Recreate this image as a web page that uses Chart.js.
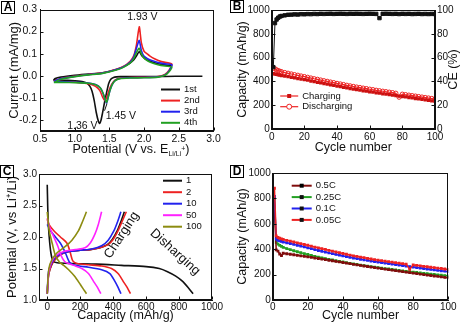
<!DOCTYPE html>
<html lang="en">
<head>
<meta charset="UTF-8">
<title>CV, cycling and rate curves</title>
<script src="https://cdn.jsdelivr.net/npm/chart.js"></script>
<style>
  body { margin: 0; background: #fff; }
  #wrap { position: relative; width: 461px; height: 331px; overflow: hidden; }
  canvas { position: absolute; }
  .tag {
    position: absolute; width: 12px; height: 11px; border: 1.5px solid #000;
    font: bold 12px "Liberation Sans", Arial, sans-serif; line-height: 11px;
    text-align: center; background: #fff; z-index: 2;
  }
</style>
</head>
<body>
<div id="wrap">
  <canvas id="cA" width="230" height="165" style="left:0;top:0"></canvas>
  <canvas id="cB" width="231" height="165" style="left:230px;top:0"></canvas>
  <canvas id="cC" width="230" height="166" style="left:0;top:165px"></canvas>
  <canvas id="cD" width="231" height="166" style="left:230px;top:165px"></canvas>
  <div class="tag" style="left:1px;top:1px">A</div>
  <div class="tag" style="left:230px;top:0">B</div>
  <div class="tag" style="left:0;top:165px">C</div>
  <div class="tag" style="left:230px;top:165px">D</div>
</div>

<script>
// ---- A: cyclic voltammetry (V, mA/mg)
const cv1V = [2.84,2.6,2.3,2.0,1.8,1.66,1.6,1.56,1.52,1.49,1.46,1.43,1.40,1.38,1.36,1.34,1.31,1.28,1.25,1.22,1.18,1.12,1.0,0.9,0.8,0.7,
              0.72,0.8,1.0,1.2,1.4,1.6,1.75,1.85,1.9,1.93,1.97,2.05,2.2,2.4];
const cv1I = [-0.002,-0.002,-0.003,-0.004,-0.004,-0.004,-0.005,-0.008,-0.016,-0.035,-0.075,-0.12,-0.17,-0.2,-0.216,-0.205,-0.165,-0.11,-0.07,-0.048,-0.034,-0.027,-0.023,-0.021,-0.02,-0.019,
              -0.012,-0.006,0.002,0.008,0.014,0.028,0.048,0.072,0.095,0.11,0.09,0.07,0.054,0.044];
const cv2V = [0.70,0.80,1.00,1.20,1.40,1.60,1.70,1.80,1.85,1.89,1.93,1.96,2.00,2.04,2.08,2.15,2.25,2.40,
              2.36,2.30,2.20,2.00,1.80,1.65,1.58,1.53,1.49,1.46,1.43,1.40,1.36,1.30,1.20,1.00,0.85,0.70];
const cv2I = [-0.024,-0.012,-0.002,0.006,0.013,0.03,0.042,0.066,0.09,0.14,0.222,0.15,0.11,0.1,0.09,0.077,0.064,0.053,
              0.025,0.006,-0.004,-0.007,-0.008,-0.011,-0.02,-0.04,-0.07,-0.1,-0.112,-0.095,-0.066,-0.048,-0.036,-0.029,-0.027,-0.024];
const cv3V = [0.70,0.80,1.00,1.20,1.40,1.60,1.70,1.80,1.85,1.89,1.93,1.96,2.00,2.05,2.10,2.20,2.30,2.40,
              2.36,2.30,2.20,2.00,1.80,1.65,1.58,1.54,1.51,1.48,1.46,1.44,1.41,1.37,1.30,1.20,1.00,0.85,0.70];
const cv3I = [-0.026,-0.013,-0.003,0.005,0.012,0.028,0.04,0.062,0.085,0.125,0.16,0.115,0.088,0.077,0.07,0.06,0.054,0.05,
              0.022,0.004,-0.005,-0.008,-0.009,-0.012,-0.022,-0.04,-0.065,-0.1,-0.123,-0.11,-0.08,-0.055,-0.04,-0.033,-0.029,-0.027,-0.026];
const cv4V = cv3V;
const cv4I = [-0.03,-0.016,-0.004,0.004,0.011,0.026,0.038,0.058,0.078,0.105,0.125,0.1,0.08,0.068,0.06,0.05,0.044,0.04,
              0.018,0.002,-0.006,-0.009,-0.01,-0.013,-0.023,-0.04,-0.065,-0.1,-0.12,-0.108,-0.08,-0.055,-0.041,-0.034,-0.031,-0.03,-0.03];
const cvLabels = ['1st', '2nd', '3rd', '4th'];
const potTicks = [0.5, 1.0, 1.5, 2.0, 2.5, 3.0];
const curTicks = [-0.2, -0.1, 0.0, 0.1, 0.2, 0.3];

// ---- B / D: cycling (shared cycle numbers)
const cycles = [1,2,3,4,5,6,8,10,12,14,16,18,20,22,24,26,28,30,32,34,36,38,40,42,44,46,48,50,52,54,56,58,60,62,64,66,68,70,72,74,76,78,80,82,84,86,88,90,92,94,96,98,100];
const chargeB = [465,462,458,455,452,449,444,440,434,430,424,420,414,410,403,399,392,388,381,377,370,366,360,356,350,346,340,336,330,327,321,318,312,309,304,301,296,293,288,285,280,277,272,269,264,261,256,253,248,245,240,236,232];
const dischargeB = [null,505,496,490,485,481,474,468,462,456,451,445,440,434,428,422,417,411,405,400,394,389,383,378,373,367,362,357,352,348,343,339,334,330,325,321,317,313,309,305,300,268,292,288,284,280,276,272,268,264,260,256,252];
const ceB = [52,89,92,93.5,94.5,95,95.5,96,96.1,96.3,96.2,96.5,96.4,96.6,96.5,96.7,96.6,96.8,96.7,96.8,96.9,96.7,96.8,96.9,96.8,96.7,96.9,96.8,96.9,96.8,96.7,96.8,96.9,96.8,96.7,93.2,96.8,96.9,96.8,96.7,96.8,96.6,96.8,96.7,96.8,96.6,96.7,96.8,96.6,96.7,96.6,96.7,96.6];
const cycTicks = [0, 20, 40, 60, 80, 100];
const capTicks = [0, 200, 400, 600, 800, 1000];
const ceTicks = [0, 20, 40, 60, 80, 100];

const rate05 = [700,395,385,362,350,368,364,360,356,352,348,344,340,336,331,327,322,318,313,309,304,300,295,290,286,281,277,272,268,264,259,255,251,247,243,239,235,231,227,223,219,215,211,208,204,200,196,193,189,186,182,178,175];
const rate025 = [800,455,440,430,422,415,405,396,388,380,372,365,358,351,344,338,332,326,320,315,309,304,299,294,289,284,280,275,271,267,263,259,255,251,247,244,240,237,233,230,226,223,220,217,213,210,207,204,201,198,195,192,189];
const rate01 = [815,480,470,465,461,457,451,445,438,431,425,418,411,404,397,390,384,377,371,365,359,353,347,342,336,331,326,321,316,312,307,303,299,295,291,287,283,279,275,271,267,263,259,255,252,248,244,241,237,234,230,227,223];
const rate005 = [880,505,492,486,481,477,470,464,457,450,444,437,431,424,417,411,404,398,391,385,378,372,366,360,354,348,343,338,333,328,323,318,314,310,306,302,298,294,290,286,282,242,276,273,269,265,262,258,255,251,248,244,240];
const rateLabels = ['0.5C', '0.25C', '0.1C', '0.05C'];

// ---- C: charge / discharge profiles (mAh/g, V)
const c1DisCap = [0,5,12,22,35,60,150,300,450,600,680,730,780,820,855,885];
const c1DisV   = [2.83,2.3,2.0,1.75,1.62,1.59,1.58,1.57,1.55,1.53,1.5,1.45,1.38,1.3,1.2,1.1];
const c1ChgCap = [0,8,25,50,80,130,200,260,320,365,395,425,448,468];
const c1ChgV   = [1.1,1.4,1.55,1.65,1.72,1.77,1.79,1.8,1.83,1.88,1.96,2.1,2.25,2.4];
const c2DisCap = [0,10,40,80,120,140,155,180,250,330,390,430,460,485,505];
const c2DisV   = [2.28,2.2,2.1,2.0,1.9,1.75,1.62,1.58,1.56,1.54,1.5,1.42,1.3,1.2,1.1];
const c2ChgCap = [0,8,25,50,80,130,200,260,320,370,400,430,455,480];
const c2ChgV   = [1.1,1.4,1.55,1.65,1.72,1.77,1.79,1.8,1.83,1.88,1.96,2.1,2.25,2.4];
const c10DisCap = [0,20,50,80,110,135,170,250,330,380,410,430,447];
const c10DisV   = [2.2,2.1,2.0,1.9,1.75,1.6,1.55,1.52,1.48,1.42,1.3,1.2,1.1];
const c10ChgCap = [0,8,30,60,110,200,270,330,370,405,428,447];
const c10ChgV   = [1.1,1.45,1.6,1.7,1.76,1.79,1.81,1.86,1.95,2.1,2.25,2.4];
const c50DisCap = [0,15,40,65,85,110,160,210,250,280,305,325];
const c50DisV   = [2.3,2.15,2.0,1.85,1.7,1.6,1.55,1.5,1.42,1.3,1.2,1.1];
const c50ChgCap = [0,10,25,50,100,170,230,260,290,310,330];
const c50ChgV   = [1.1,1.45,1.6,1.7,1.77,1.8,1.83,1.9,2.05,2.2,2.4];
const c100DisCap = [0,12,30,50,75,100,130,165,200,225,238];
const c100DisV   = [2.4,2.1,1.9,1.7,1.6,1.55,1.48,1.38,1.25,1.15,1.1];
const c100ChgCap = [0,10,30,60,110,150,190,215,238];
const c100ChgV   = [1.1,1.5,1.65,1.75,1.85,1.95,2.1,2.25,2.4];
const profLabels = ['1', '2', '10', '50', '100'];
const profCapTicks = [0, 200, 400, 600, 800, 1000];
const profVTicks = [1.0, 1.5, 2.0, 2.5, 3.0];

// ---------------------------------------------------------------
const FONT = '"Liberation Sans", Arial, sans-serif';
Chart.defaults.font.family = FONT;
Chart.defaults.color = '#111';
Chart.defaults.animation = false;
Chart.defaults.responsive = false;
Chart.defaults.devicePixelRatio = 1;
Chart.defaults.plugins.legend.display = false;
Chart.defaults.plugins.tooltip.enabled = false;

const BLACK = '#111', RED = '#ee2222', BLUE = '#2222ee', GREEN = '#22a022',
      MAG = '#ff22ff', OLIVE = '#8c8c10', MAROON = '#800c0c';

function pts(xs, ys) { return xs.map((x, i) => ({ x: x, y: ys[i] })); }

function curve(xs, ys, color, extra) {
  return Object.assign({
    data: pts(xs, ys), showLine: true, borderColor: color, backgroundColor: color,
    borderWidth: 1.6, pointRadius: 0, tension: 0
  }, extra || {});
}

// axis with a fixed box size so each plot frame lands where the figure has it;
// tick marks are drawn inward by the frame plugin
function axis(o) {
  return {
    type: 'linear', position: o.pos, min: o.min, max: o.max,
    afterFit: s => { if (o.w !== undefined) s.width = o.w; if (o.h !== undefined) s.height = o.h; },
    afterBuildTicks: s => { s.ticks = o.ticks.map(v => ({ value: v })); },
    grid: { drawOnChartArea: false, drawTicks: false },
    border: { color: BLACK },
    ticks: { font: { size: o.fs || 10 }, color: BLACK, padding: o.lpad === undefined ? 2 : o.lpad,
             maxRotation: 0, autoSkip: false,
             callback: v => o.dec ? v.toFixed(o.dec) : String(v) },
    title: o.title ? { display: true, text: o.title, font: { size: o.tfs || 12.5 }, color: BLACK,
                       padding: { top: o.tpad || 0, bottom: o.tpad || 0 } } : { display: false }
  };
}

const frame = {
  id: 'frame',
  afterDraw(chart) {
    const a = chart.chartArea, ctx = chart.ctx;
    const l = Math.round(a.left) + 0.5, t = Math.round(a.top) + 0.5;
    const r = Math.round(a.right) - 0.5, b = Math.round(a.bottom) - 0.5;
    ctx.save();
    ctx.strokeStyle = BLACK; ctx.lineWidth = 1;
    ctx.strokeRect(l, t, r - l, b - t);
    ctx.beginPath();
    Object.values(chart.scales).forEach(s => {
      s.ticks.forEach(tk => {
        const p = Math.round(s.getPixelForValue(tk.value)) + 0.5;
        if (s.isHorizontal()) { ctx.moveTo(p, b); ctx.lineTo(p, b - 3); }
        else if (s.position === 'left') { ctx.moveTo(l, p); ctx.lineTo(l + 3, p); }
        else { ctx.moveTo(r, p); ctx.lineTo(r - 3, p); }
      });
    });
    ctx.stroke();
    ctx.restore();
  }
};

// free text and small strokes, placed in data coordinates
const notes = {
  id: 'notes',
  afterDatasetsDraw(chart, args, o) {
    const ctx = chart.ctx, xs = chart.scales.x, ys = chart.scales.y;
    (o.lines || []).forEach(l => {
      ctx.save(); ctx.strokeStyle = BLACK; ctx.lineWidth = 1;
      ctx.beginPath();
      ctx.moveTo(xs.getPixelForValue(l[0]), ys.getPixelForValue(l[1]));
      ctx.lineTo(xs.getPixelForValue(l[2]), ys.getPixelForValue(l[3]));
      ctx.stroke(); ctx.restore();
    });
    (o.items || []).forEach(n => {
      ctx.save();
      ctx.font = (n.size || 10) + 'px ' + FONT;
      ctx.fillStyle = BLACK; ctx.textAlign = 'center'; ctx.textBaseline = 'middle';
      ctx.translate(xs.getPixelForValue(n.x), ys.getPixelForValue(n.y));
      if (n.rot) ctx.rotate(n.rot * Math.PI / 180);
      ctx.fillText(n.text, 0, 0);
      ctx.restore();
    });
  }
};

// in-plot legends, offsets from the chart area's top-left corner
const keys = {
  id: 'keys',
  afterDraw(chart, args, o) {
    if (!o.items) return;
    const a = chart.chartArea, ctx = chart.ctx;
    ctx.save();
    ctx.font = (o.size || 9.5) + 'px ' + FONT;
    ctx.textBaseline = 'middle';
    o.items.forEach((k, i) => {
      const y = a.top + o.y + i * o.gap, x0 = a.left + o.x, x1 = x0 + o.len, xm = (x0 + x1) / 2;
      ctx.strokeStyle = k.color; ctx.lineWidth = k.lw || 2;
      ctx.beginPath(); ctx.moveTo(x0, y); ctx.lineTo(x1, y); ctx.stroke();
      if (k.marker === 'rect') {
        ctx.fillStyle = k.fill || k.color; ctx.fillRect(xm - 2, y - 2, 4, 4);
      } else if (k.marker === 'ring') {
        ctx.fillStyle = '#fff'; ctx.lineWidth = 1;
        ctx.beginPath(); ctx.arc(xm, y, 2.5, 0, Math.PI * 2); ctx.fill(); ctx.stroke();
      }
      ctx.fillStyle = BLACK;
      ctx.fillText(k.label, x1 + 4, y);
    });
    ctx.restore();
  }
};

Chart.register(frame, notes, keys);

// ---- A
const subTitleA = {
  id: 'subTitleA',
  afterDraw(chart) {
    const ctx = chart.ctx;
    const f1 = '12.5px ' + FONT, f2 = '7px ' + FONT;
    const main = 'Potential (V vs. E', sub = 'Li/Li', sup = '+', end = ')';
    ctx.save(); ctx.fillStyle = BLACK; ctx.textBaseline = 'alphabetic'; ctx.textAlign = 'left';
    ctx.font = f1; const w1 = ctx.measureText(main).width, w4 = ctx.measureText(end).width;
    ctx.font = f2; const w2 = ctx.measureText(sub).width, w3 = ctx.measureText(sup).width;
    let x = 131 - (w1 + w2 + w3 + w4) / 2; const y = 153;
    ctx.font = f1; ctx.fillText(main, x, y); x += w1;
    ctx.font = f2; ctx.fillText(sub, x, y + 2.5); x += w2;
    ctx.fillText(sup, x, y - 2.5); x += w3;
    ctx.font = f1; ctx.fillText(end, x, y);
    ctx.restore();
  }
};

new Chart(document.getElementById('cA'), {
  type: 'scatter',
  data: { datasets: [
    curve(cv4V, cv4I, GREEN, { tension: 0.2 }),
    curve(cv3V, cv3I, BLUE, { tension: 0.2 }),
    curve(cv2V, cv2I, RED, { tension: 0.2 }),
    curve(cv1V, cv1I, BLACK, { tension: 0.2 })
  ]},
  options: {
    layout: { padding: { top: 9.5, right: 16.5 } },
    scales: {
      x: axis({ pos: 'bottom', min: 0.5, max: 3.0, ticks: potTicks, h: 34, dec: 1, fs: 10.5, lpad: 2 }),
      y: axis({ pos: 'left', min: -0.25, max: 0.3, ticks: curTicks, w: 40, dec: 1, fs: 10.5, lpad: 3,
                title: 'Current (mA/mg)', tpad: 7, tfs: 13 })
    },
    plugins: {
      notes: {
        items: [
          { text: '1.93 V', x: 1.975, y: 0.265, size: 10.5 },
          { text: '1.45 V', x: 1.665, y: -0.182, size: 10.5 },
          { text: '1.36 V', x: 1.11, y: -0.227, size: 10.5 }
        ],
        lines: [[1.465, -0.126, 1.43, -0.158]]
      },
      keys: {
        x: 121, y: 80, gap: 11.1, len: 19,
        items: cvLabels.map((l, i) => ({ label: l, color: [BLACK, RED, BLUE, GREEN][i] }))
      }
    }
  },
  plugins: [subTitleA]
});

// ---- B
const rightTitleB = {
  id: 'rightTitleB',
  afterDraw(chart) {
    const ctx = chart.ctx, a = chart.chartArea;
    ctx.save(); ctx.font = '12.5px ' + FONT; ctx.fillStyle = BLACK;
    ctx.textAlign = 'center'; ctx.textBaseline = 'middle';
    ctx.translate(224, (a.top + a.bottom) / 2); ctx.rotate(-Math.PI / 2);
    ctx.fillText('CE (%)', 0, 0); ctx.restore();
  }
};

new Chart(document.getElementById('cB'), {
  type: 'scatter',
  data: { datasets: [
    curve(cycles, ceB, BLACK, { yAxisID: 'y1', borderWidth: 1, pointStyle: 'rect', pointRadius: 2.4 }),
    curve(cycles, chargeB, RED, { borderWidth: 1.2, pointStyle: 'rect', pointRadius: 2.3, pointBackgroundColor: '#cc1010', pointBorderWidth: 0 }),
    curve(cycles, dischargeB, RED, { borderWidth: 1.2, pointStyle: 'circle', pointRadius: 2.2, pointBackgroundColor: 'rgba(255,255,255,0)', pointBorderWidth: 1, spanGaps: true })
  ]},
  options: {
    layout: { padding: { top: 10 } },
    scales: {
      x: axis({ pos: 'bottom', min: 0, max: 100, ticks: cycTicks, h: 36, title: 'Cycle number', tpad: 9.5 }),
      y: axis({ pos: 'left', min: 0, max: 1000, ticks: capTicks, w: 41.7, title: 'Capacity (mAh/g)', tpad: 5.5 }),
      y1: axis({ pos: 'right', min: 0, max: 100, ticks: ceTicks, w: 26 })
    },
    plugins: {
      keys: {
        x: 8.5, y: 86, gap: 10.7, len: 18,
        items: [
          { label: 'Charging', color: RED, marker: 'rect', fill: '#cc1010', lw: 1.2 },
          { label: 'Discharging', color: RED, marker: 'ring', lw: 1.2 }
        ]
      }
    }
  },
  plugins: [rightTitleB]
});

// ---- C
const profColors = [BLACK, RED, BLUE, MAG, OLIVE];
new Chart(document.getElementById('cC'), {
  type: 'scatter',
  data: { datasets: [
    curve(c100DisCap, c100DisV, OLIVE, { tension: 0.25 }), curve(c100ChgCap, c100ChgV, OLIVE, { tension: 0.25 }),
    curve(c50DisCap, c50DisV, MAG, { tension: 0.25 }), curve(c50ChgCap, c50ChgV, MAG, { tension: 0.25 }),
    curve(c10DisCap, c10DisV, BLUE, { tension: 0.25 }), curve(c10ChgCap, c10ChgV, BLUE, { tension: 0.25 }),
    curve(c2DisCap, c2DisV, RED, { tension: 0.25 }), curve(c2ChgCap, c2ChgV, RED, { tension: 0.25 }),
    curve(c1DisCap, c1DisV, BLACK, { tension: 0.25 }), curve(c1ChgCap, c1ChgV, BLACK, { tension: 0.25 })
  ]},
  options: {
    layout: { padding: { top: 9, right: 18 } },
    scales: {
      x: axis({ pos: 'bottom', min: -50, max: 1000, ticks: profCapTicks, h: 31, lpad: 1,
                title: 'Capacity (mAh/g)', tpad: 7.5 }),
      y: axis({ pos: 'left', min: 1.0, max: 3.0, ticks: profVTicks, w: 39, dec: 1,
                title: 'Potential (V, vs Li\u207A/Li)', tpad: 4.5, tfs: 13 })
    },
    plugins: {
      notes: {
        items: [
          { text: 'Charging', x: 452, y: 2.03, size: 13, rot: -57 },
          { text: 'Disharging', x: 776, y: 1.76, size: 13, rot: 42 }
        ]
      },
      keys: {
        x: 124, y: 6.7, gap: 11.5, len: 19,
        items: profLabels.map((l, i) => ({ label: l, color: profColors[i] }))
      }
    }
  }
});

// ---- D
const rateColors = [MAROON, GREEN, BLUE, RED];
const sq = { borderWidth: 1.5, pointStyle: 'rect', pointRadius: 2, pointBorderWidth: 0 };
new Chart(document.getElementById('cD'), {
  type: 'scatter',
  data: { datasets: [
    curve(cycles, rate005, RED, sq),
    curve(cycles, rate01, BLUE, sq),
    curve(cycles, rate05, MAROON, sq),
    curve(cycles, rate025, GREEN, sq)
  ]},
  options: {
    layout: { padding: { top: 8, right: 12.7 } },
    scales: {
      x: axis({ pos: 'bottom', min: 0, max: 100, ticks: cycTicks, h: 31, lpad: 1,
                title: 'Cycle number', tpad: 7.5 }),
      y: axis({ pos: 'left', min: 0, max: 1000, ticks: capTicks, w: 42.7, title: 'Capacity (mAh/g)', tpad: 5.5 })
    },
    plugins: {
      keys: {
        x: 19, y: 12.7, gap: 11.4, len: 20,
        items: rateLabels.map((l, i) => ({ label: l, color: rateColors[i], marker: 'rect' }))
      }
    }
  }
});
</script>
</body>
</html>
